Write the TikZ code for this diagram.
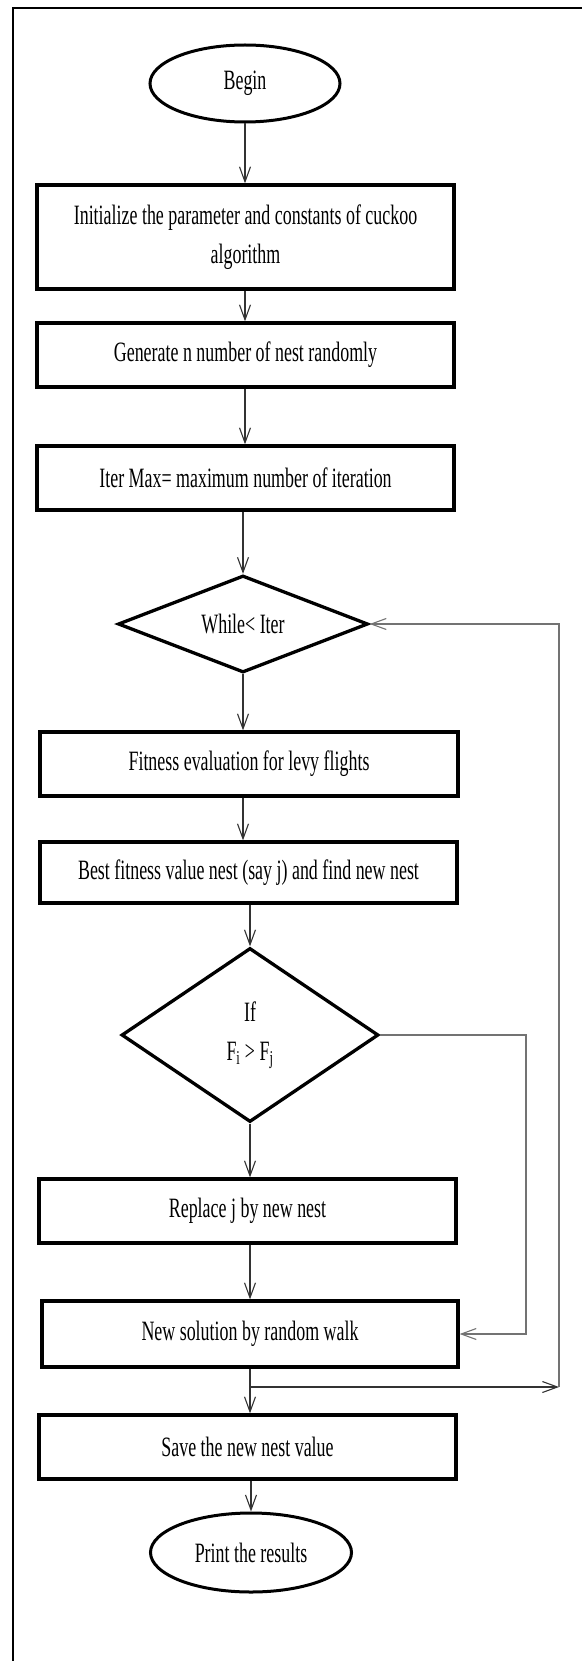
\documentclass[tikz,border=0pt]{standalone}
\usepackage{fontspec}
\setmainfont{Liberation Serif}[FakeStretch=0.64]
\usetikzlibrary{shapes.geometric,arrows.meta}

\tikzset{
  stepbox/.style={draw, rectangle, line width=3.3pt, minimum width=417pt,
    minimum height=64pt, inner sep=0pt, align=center},
  termin/.style={draw, ellipse, line width=3pt, inner sep=0pt},
  decide/.style={draw, diamond, aspect=1.5, line width=3.3pt, inner sep=0pt,
    align=center},
  link/.style={->, line width=1.1pt, draw=black!80},
  back/.style={->, line width=1.1pt, draw=black!55},
}

\begin{document}
\begin{tikzpicture}[x=1pt, y=-1pt,
  >={Straight Barb[length=15pt,width=11pt]},
  font=\fontsize{28}{39}\selectfont]

\newcommand\LOOPX{559}
\newcommand\IFX{526}

  \useasboundingbox (0,0) rectangle (582,1661);

  %% frame
  \draw[line width=2pt] (12.5,1661) -- (12.5,8) -- (582,8);

  %% steps
  \node[termin, minimum width=190pt, minimum height=77pt] (begin) at (245,83.5) {Begin};
  \node[stepbox, minimum height=104pt] (init) at (245.5,237)
    {Initialize the parameter and constants of cuckoo\\algorithm};
  \node[stepbox] (gen) at (245.5,355) {Generate n number of nest randomly};
  \node[stepbox] (itermax) at (245.5,478) {Iter Max= maximum number of iteration};
  \node[decide, minimum width=250pt, minimum height=97pt] (while) at (243,624) {While< Iter};
  \node[stepbox, minimum width=418pt] (fitness) at (249,764) {Fitness evaluation for levy flights};
  \node[stepbox, minimum height=61pt] (best) at (248.5,872.5)
    {Best fitness value nest (say j) and find new nest};
  \node[decide, minimum width=257pt, minimum height=174pt] (if) at (250,1035)
    {If\\F\textsubscript{i} > F\textsubscript{j}};
  \node[stepbox] (replace) at (247.5,1211) {Replace j by new nest};
  \node[stepbox, minimum width=416pt, minimum height=66pt] (newsol) at (250,1334)
    {New solution by random walk};
  \node[stepbox] (save) at (247.5,1447) {Save the new nest value};
  \node[termin, minimum width=201pt, minimum height=79pt] (print) at (251,1552.5)
    {Print the results};

  %% main flow
  \draw[link] (begin.south) -- (begin.south |- init.north);
  \draw[link] (init.south -| begin.south) -- (begin.south |- gen.north);
  \draw[link] (gen.south -| begin.south) -- (begin.south |- itermax.north);
  \draw[link] (itermax.south -| while.north) -- (while.north);
  \draw[link] (while.south) -- (while.south |- fitness.north);
  \draw[link] (fitness.south -| while.south) -- (while.south |- best.north);
  \draw[link] (best.south -| if.north) -- (if.north);
  \draw[link] (if.south) -- (if.south |- replace.north);
  \draw[link] (replace.south -| newsol.north) -- (newsol.north);
  \draw[link] (newsol.south) -- (newsol.south |- save.north);
  \draw[link] (save.south -| print.north) -- (print.north);

  %% if not: go to random walk
  \coordinate (ifR) at (\IFX,1035);
  \draw[back] (if.east) -- (ifR) -- (ifR |- newsol.east) -- (newsol.east);

  %% loop back to while
  \coordinate (br) at (newsol.south |- 0,1387);
  \coordinate (loopR) at (\LOOPX,1387);
  \draw[link] (br) -- (loopR);
  \draw[back] (loopR) -- (loopR |- while.east) -- (while.east);

\end{tikzpicture}
\end{document}
